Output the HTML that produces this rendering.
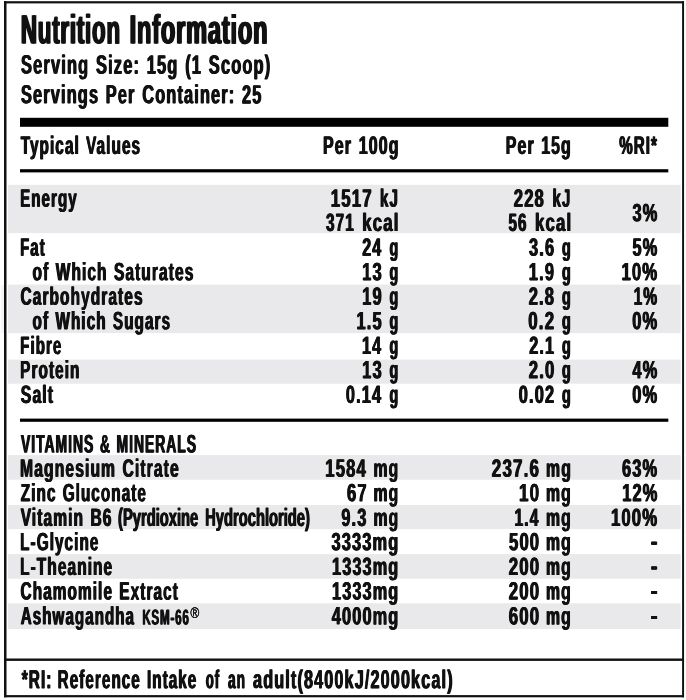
<!DOCTYPE html>
<html><head><meta charset="utf-8"><title>Nutrition Information</title>
<style>
html,body{margin:0;padding:0;background:#fff;}
#l{position:relative;width:686px;height:700px;overflow:hidden;background:#fff;font-family:"Liberation Sans",sans-serif;font-weight:700;color:#111}
#l svg{position:absolute;left:0;top:0;display:block}
#l span{position:absolute;left:0;top:0;display:block;line-height:1;white-space:pre;word-spacing:0.06em;letter-spacing:0.07em;transform-origin:0 0;text-rendering:geometricPrecision}
</style></head><body>
<div id="l">
<svg width="686" height="700" viewBox="0 0 686 700">
<rect x="1.5" y="285" width="2.6" height="48" fill="#f4f4f5"/>
<rect x="8" y="184.8" width="672.7" height="48.3" fill="#e9e9eb"/><rect x="8" y="284.6" width="672.7" height="48.5" fill="#e9e9eb"/><rect x="8" y="359.6" width="672.7" height="24.1" fill="#e9e9eb"/><rect x="8" y="455.1" width="672.7" height="24.6" fill="#e9e9eb"/><rect x="8" y="505.0" width="672.7" height="24.1" fill="#e9e9eb"/><rect x="8" y="554.1" width="672.7" height="24.6" fill="#e9e9eb"/><rect x="8" y="603.3" width="672.7" height="25.7" fill="#e9e9eb"/>
<rect x="4" y="1.2" width="2.5" height="696.1" fill="#111"/><rect x="682.1" y="1.2" width="1.95" height="696.1" fill="#111"/><rect x="4" y="1.2" width="680" height="2.2" fill="#111"/><rect x="4" y="695.1" width="680" height="2.2" fill="#111"/>
<rect x="4.1" y="658.5" width="679.9" height="2.4" fill="#111"/>
<rect x="20" y="117.8" width="648.3" height="9" fill="#000"/>
<rect x="20" y="169.2" width="648.3" height="3.2" fill="#000"/>
<rect x="20" y="418.6" width="648.3" height="3.2" fill="#000"/>
</svg>
<span style="letter-spacing:0.035em;font-size:41.13px;transform:matrix(0.5424,0.0005,0,1,20.91,9.55);text-shadow:1.47px 0 0 #111,-1.47px 0 0 #111">Nutrition</span>
<span style="letter-spacing:0.035em;font-size:41.13px;transform:matrix(0.5732,0.0005,0,1,129.63,9.54);text-shadow:1.40px 0 0 #111,-1.40px 0 0 #111">Information</span>
<span style="font-size:26.45px;transform:matrix(0.6212,0.0005,0,1,21.01,51.60);text-shadow:0.76px 0 0 #111,-0.76px 0 0 #111">Serving Size: 15g (1 Scoop)</span>
<span style="font-size:26.31px;transform:matrix(0.6211,0.0005,0,1,21.01,81.20);text-shadow:0.76px 0 0 #111,-0.76px 0 0 #111">Servings Per Container: 25</span>
<span style="font-size:25.44px;transform:matrix(0.6025,0.0005,0,1,20.67,133.95);text-shadow:0.78px 0 0 #111,-0.78px 0 0 #111">Typical Values</span>
<span style="font-size:25.44px;transform:matrix(0.6278,0.0005,0,1,323.07,133.97);text-shadow:0.75px 0 0 #111,-0.75px 0 0 #111">Per 100g</span>
<span style="font-size:25.44px;transform:matrix(0.6239,0.0005,0,1,505.78,133.97);text-shadow:0.75px 0 0 #111,-0.75px 0 0 #111">Per 15g</span>
<span style="font-size:25.44px;transform:matrix(0.5951,0.0005,0,1,619.23,133.98);text-shadow:0.79px 0 0 #111,-0.79px 0 0 #111">%RI*</span>
<span style="font-size:25.15px;transform:matrix(0.6007,0.0005,0,1,20.13,186.68);text-shadow:0.78px 0 0 #111,-0.78px 0 0 #111">Energy</span>
<span style="font-size:25.15px;transform:matrix(0.6695,0.0005,0,1,330.72,186.68);text-shadow:0.70px 0 0 #111,-0.70px 0 0 #111">1517</span>
<span style="font-size:25.15px;transform:matrix(0.6004,0.0005,0,1,380.03,186.69);text-shadow:0.78px 0 0 #111,-0.78px 0 0 #111">kJ</span>
<span style="font-size:25.15px;transform:matrix(0.6086,0.0005,0,1,326.03,210.99);text-shadow:0.77px 0 0 #111,-0.77px 0 0 #111">371</span>
<span style="font-size:25.15px;transform:matrix(0.6675,0.0005,0,1,362.22,210.99);text-shadow:0.70px 0 0 #111,-0.70px 0 0 #111">kcal</span>
<span style="font-size:25.15px;transform:matrix(0.6617,0.0005,0,1,513.75,186.69);text-shadow:0.71px 0 0 #111,-0.71px 0 0 #111">228</span>
<span style="font-size:25.15px;transform:matrix(0.6004,0.0005,0,1,552.43,186.69);text-shadow:0.78px 0 0 #111,-0.78px 0 0 #111">kJ</span>
<span style="font-size:25.15px;transform:matrix(0.6011,0.0005,0,1,508.53,210.99);text-shadow:0.78px 0 0 #111,-0.78px 0 0 #111">56</span>
<span style="font-size:25.15px;transform:matrix(0.6675,0.0005,0,1,534.92,210.99);text-shadow:0.70px 0 0 #111,-0.70px 0 0 #111">kcal</span>
<span style="font-size:25.15px;transform:matrix(0.6467,0.0005,0,1,632.52,201.29);text-shadow:0.73px 0 0 #111,-0.73px 0 0 #111">3%</span>
<span style="font-size:25.15px;transform:matrix(0.5957,0.0005,0,1,20.13,235.79);text-shadow:0.79px 0 0 #111,-0.79px 0 0 #111">Fat</span>
<span style="font-size:25.15px;transform:matrix(0.6376,0.0005,0,1,362.17,235.79);text-shadow:0.74px 0 0 #111,-0.74px 0 0 #111">24</span>
<span style="font-size:25.15px;transform:matrix(0.5676,0.0005,0,1,389.52,235.80);text-shadow:0.83px 0 0 #111,-0.83px 0 0 #111">g</span>
<span style="font-size:25.15px;transform:matrix(0.6502,0.0005,0,1,529.01,235.79);text-shadow:0.72px 0 0 #111,-0.72px 0 0 #111">3.6</span>
<span style="font-size:25.15px;transform:matrix(0.5676,0.0005,0,1,561.92,235.80);text-shadow:0.83px 0 0 #111,-0.83px 0 0 #111">g</span>
<span style="font-size:25.15px;transform:matrix(0.6467,0.0005,0,1,632.52,235.79);text-shadow:0.73px 0 0 #111,-0.73px 0 0 #111">5%</span>
<span style="font-size:25.15px;transform:matrix(0.6166,0.0005,0,1,32.59,260.23);text-shadow:0.76px 0 0 #111,-0.76px 0 0 #111">of Which Saturates</span>
<span style="font-size:25.15px;transform:matrix(0.6558,0.0005,0,1,362.14,260.29);text-shadow:0.72px 0 0 #111,-0.72px 0 0 #111">13</span>
<span style="font-size:25.15px;transform:matrix(0.5676,0.0005,0,1,389.52,260.30);text-shadow:0.83px 0 0 #111,-0.83px 0 0 #111">g</span>
<span style="font-size:25.15px;transform:matrix(0.6576,0.0005,0,1,528.74,260.29);text-shadow:0.71px 0 0 #111,-0.71px 0 0 #111">1.9</span>
<span style="font-size:25.15px;transform:matrix(0.5676,0.0005,0,1,561.92,260.30);text-shadow:0.83px 0 0 #111,-0.83px 0 0 #111">g</span>
<span style="font-size:25.15px;transform:matrix(0.6636,0.0005,0,1,621.43,260.29);text-shadow:0.71px 0 0 #111,-0.71px 0 0 #111">10%</span>
<span style="font-size:25.15px;transform:matrix(0.6141,0.0005,0,1,20.59,284.75);text-shadow:0.77px 0 0 #111,-0.77px 0 0 #111">Carbohydrates</span>
<span style="font-size:25.15px;transform:matrix(0.6558,0.0005,0,1,362.14,284.79);text-shadow:0.72px 0 0 #111,-0.72px 0 0 #111">19</span>
<span style="font-size:25.15px;transform:matrix(0.5676,0.0005,0,1,389.52,284.80);text-shadow:0.83px 0 0 #111,-0.83px 0 0 #111">g</span>
<span style="font-size:25.15px;transform:matrix(0.6571,0.0005,0,1,528.75,284.79);text-shadow:0.72px 0 0 #111,-0.72px 0 0 #111">2.8</span>
<span style="font-size:25.15px;transform:matrix(0.5676,0.0005,0,1,561.92,284.80);text-shadow:0.83px 0 0 #111,-0.83px 0 0 #111">g</span>
<span style="font-size:25.15px;transform:matrix(0.6180,0.0005,0,1,633.60,284.79);text-shadow:0.76px 0 0 #111,-0.76px 0 0 #111">1%</span>
<span style="font-size:25.15px;transform:matrix(0.6085,0.0005,0,1,32.59,309.14);text-shadow:0.77px 0 0 #111,-0.77px 0 0 #111">of Which Sugars</span>
<span style="font-size:25.15px;transform:matrix(0.6521,0.0005,0,1,356.55,309.19);text-shadow:0.72px 0 0 #111,-0.72px 0 0 #111">1.5</span>
<span style="font-size:25.15px;transform:matrix(0.5676,0.0005,0,1,389.52,309.20);text-shadow:0.83px 0 0 #111,-0.83px 0 0 #111">g</span>
<span style="font-size:25.15px;transform:matrix(0.6706,0.0005,0,1,528.24,309.19);text-shadow:0.70px 0 0 #111,-0.70px 0 0 #111">0.2</span>
<span style="font-size:25.15px;transform:matrix(0.5676,0.0005,0,1,561.92,309.20);text-shadow:0.83px 0 0 #111,-0.83px 0 0 #111">g</span>
<span style="font-size:25.15px;transform:matrix(0.6535,0.0005,0,1,632.26,309.19);text-shadow:0.72px 0 0 #111,-0.72px 0 0 #111">0%</span>
<span style="font-size:25.15px;transform:matrix(0.6009,0.0005,0,1,20.13,333.88);text-shadow:0.78px 0 0 #111,-0.78px 0 0 #111">Fibre</span>
<span style="font-size:25.15px;transform:matrix(0.6447,0.0005,0,1,361.96,333.89);text-shadow:0.73px 0 0 #111,-0.73px 0 0 #111">14</span>
<span style="font-size:25.15px;transform:matrix(0.5676,0.0005,0,1,389.52,333.90);text-shadow:0.83px 0 0 #111,-0.83px 0 0 #111">g</span>
<span style="font-size:25.15px;transform:matrix(0.6436,0.0005,0,1,529.26,333.89);text-shadow:0.73px 0 0 #111,-0.73px 0 0 #111">2.1</span>
<span style="font-size:25.15px;transform:matrix(0.5676,0.0005,0,1,561.92,333.90);text-shadow:0.83px 0 0 #111,-0.83px 0 0 #111">g</span>
<span style="font-size:25.15px;transform:matrix(0.6107,0.0005,0,1,20.11,358.28);text-shadow:0.77px 0 0 #111,-0.77px 0 0 #111">Protein</span>
<span style="font-size:25.15px;transform:matrix(0.6558,0.0005,0,1,362.14,358.29);text-shadow:0.72px 0 0 #111,-0.72px 0 0 #111">13</span>
<span style="font-size:25.15px;transform:matrix(0.5676,0.0005,0,1,389.52,358.30);text-shadow:0.83px 0 0 #111,-0.83px 0 0 #111">g</span>
<span style="font-size:25.15px;transform:matrix(0.6642,0.0005,0,1,528.75,358.29);text-shadow:0.71px 0 0 #111,-0.71px 0 0 #111">2.0</span>
<span style="font-size:25.15px;transform:matrix(0.5676,0.0005,0,1,561.92,358.30);text-shadow:0.83px 0 0 #111,-0.83px 0 0 #111">g</span>
<span style="font-size:25.15px;transform:matrix(0.6452,0.0005,0,1,632.57,358.29);text-shadow:0.73px 0 0 #111,-0.73px 0 0 #111">4%</span>
<span style="font-size:25.15px;transform:matrix(0.6261,0.0005,0,1,20.82,382.89);text-shadow:0.75px 0 0 #111,-0.75px 0 0 #111">Salt</span>
<span style="font-size:25.15px;transform:matrix(0.6503,0.0005,0,1,345.86,382.89);text-shadow:0.72px 0 0 #111,-0.72px 0 0 #111">0.14</span>
<span style="font-size:25.15px;transform:matrix(0.5676,0.0005,0,1,389.52,382.90);text-shadow:0.83px 0 0 #111,-0.83px 0 0 #111">g</span>
<span style="font-size:25.15px;transform:matrix(0.6505,0.0005,0,1,518.76,382.89);text-shadow:0.72px 0 0 #111,-0.72px 0 0 #111">0.02</span>
<span style="font-size:25.15px;transform:matrix(0.5676,0.0005,0,1,561.92,382.90);text-shadow:0.83px 0 0 #111,-0.83px 0 0 #111">g</span>
<span style="font-size:25.15px;transform:matrix(0.6535,0.0005,0,1,632.26,382.89);text-shadow:0.72px 0 0 #111,-0.72px 0 0 #111">0%</span>
<span style="font-size:25.44px;transform:matrix(0.5464,0.0005,0,1,21.07,432.42);text-shadow:0.86px 0 0 #111,-0.86px 0 0 #111">VITAMINS &amp; MINERALS</span>
<span style="font-size:25.15px;transform:matrix(0.6229,0.0005,0,1,20.09,456.74);text-shadow:0.75px 0 0 #111,-0.75px 0 0 #111">Magnesium Citrate</span>
<span style="font-size:25.15px;transform:matrix(0.6630,0.0005,0,1,325.23,456.78);text-shadow:0.71px 0 0 #111,-0.71px 0 0 #111">1584</span>
<span style="font-size:25.15px;transform:matrix(0.6269,0.0005,0,1,373.48,456.79);text-shadow:0.75px 0 0 #111,-0.75px 0 0 #111">mg</span>
<span style="font-size:25.15px;transform:matrix(0.6732,0.0005,0,1,491.84,456.78);text-shadow:0.70px 0 0 #111,-0.70px 0 0 #111">237.6</span>
<span style="font-size:25.15px;transform:matrix(0.6269,0.0005,0,1,546.08,456.79);text-shadow:0.75px 0 0 #111,-0.75px 0 0 #111">mg</span>
<span style="font-size:25.15px;transform:matrix(0.6518,0.0005,0,1,622.06,456.79);text-shadow:0.72px 0 0 #111,-0.72px 0 0 #111">63%</span>
<span style="font-size:25.15px;transform:matrix(0.6070,0.0005,0,1,20.83,481.15);text-shadow:0.77px 0 0 #111,-0.77px 0 0 #111">Zinc Gluconate</span>
<span style="font-size:25.15px;transform:matrix(0.6574,0.0005,0,1,347.05,481.19);text-shadow:0.71px 0 0 #111,-0.71px 0 0 #111">67</span>
<span style="font-size:25.15px;transform:matrix(0.6269,0.0005,0,1,373.48,481.19);text-shadow:0.75px 0 0 #111,-0.75px 0 0 #111">mg</span>
<span style="font-size:25.15px;transform:matrix(0.6764,0.0005,0,1,519.01,481.19);text-shadow:0.69px 0 0 #111,-0.69px 0 0 #111">10</span>
<span style="font-size:25.15px;transform:matrix(0.6269,0.0005,0,1,545.98,481.19);text-shadow:0.75px 0 0 #111,-0.75px 0 0 #111">mg</span>
<span style="font-size:25.15px;transform:matrix(0.6482,0.0005,0,1,622.25,481.19);text-shadow:0.73px 0 0 #111,-0.73px 0 0 #111">12%</span>
<span style="font-size:25.15px;transform:matrix(0.6179,0.0005,0,1,20.67,505.86);text-shadow:0.76px 0 0 #111,-0.76px 0 0 #111">Vitamin B6</span>
<span style="letter-spacing:0.0em;font-size:25.15px;transform:matrix(0.5857,0.0005,0,1,118.08,505.87);text-shadow:0.80px 0 0 #111,-0.80px 0 0 #111">(Pyrdioxine</span>
<span style="letter-spacing:0.0em;font-size:25.15px;transform:matrix(0.5860,0.0005,0,1,205.15,505.86);text-shadow:0.80px 0 0 #111,-0.80px 0 0 #111">Hydrochloride)</span>
<span style="font-size:25.15px;transform:matrix(0.6490,0.0005,0,1,341.36,505.89);text-shadow:0.72px 0 0 #111,-0.72px 0 0 #111">9.3</span>
<span style="font-size:25.15px;transform:matrix(0.6269,0.0005,0,1,373.48,505.89);text-shadow:0.75px 0 0 #111,-0.75px 0 0 #111">mg</span>
<span style="font-size:25.15px;transform:matrix(0.6194,0.0005,0,1,514.50,505.89);text-shadow:0.76px 0 0 #111,-0.76px 0 0 #111">1.4</span>
<span style="font-size:25.15px;transform:matrix(0.6269,0.0005,0,1,545.98,505.89);text-shadow:0.75px 0 0 #111,-0.75px 0 0 #111">mg</span>
<span style="font-size:25.15px;transform:matrix(0.6643,0.0005,0,1,610.93,505.88);text-shadow:0.71px 0 0 #111,-0.71px 0 0 #111">100%</span>
<span style="font-size:25.15px;transform:matrix(0.6084,0.0005,0,1,20.11,530.17);text-shadow:0.77px 0 0 #111,-0.77px 0 0 #111">L-Glycine</span>
<span style="font-size:25.15px;transform:matrix(0.6515,0.0005,0,1,331.51,530.17);text-shadow:0.72px 0 0 #111,-0.72px 0 0 #111">3333mg</span>
<span style="font-size:25.15px;transform:matrix(0.6617,0.0005,0,1,509.01,530.19);text-shadow:0.71px 0 0 #111,-0.71px 0 0 #111">500</span>
<span style="font-size:25.15px;transform:matrix(0.6269,0.0005,0,1,545.98,530.19);text-shadow:0.75px 0 0 #111,-0.75px 0 0 #111">mg</span>
<span style="font-size:25.15px;transform:matrix(0.6141,0.0005,0,1,20.10,554.96);text-shadow:0.77px 0 0 #111,-0.77px 0 0 #111">L-Theanine</span>
<span style="font-size:25.15px;transform:matrix(0.6461,0.0005,0,1,332.05,554.97);text-shadow:0.73px 0 0 #111,-0.73px 0 0 #111">1333mg</span>
<span style="font-size:25.15px;transform:matrix(0.6676,0.0005,0,1,508.75,554.99);text-shadow:0.70px 0 0 #111,-0.70px 0 0 #111">200</span>
<span style="font-size:25.15px;transform:matrix(0.6269,0.0005,0,1,545.98,554.99);text-shadow:0.75px 0 0 #111,-0.75px 0 0 #111">mg</span>
<span style="font-size:25.15px;transform:matrix(0.6109,0.0005,0,1,20.59,579.54);text-shadow:0.77px 0 0 #111,-0.77px 0 0 #111">Chamomile Extract</span>
<span style="font-size:25.15px;transform:matrix(0.6461,0.0005,0,1,332.05,579.57);text-shadow:0.73px 0 0 #111,-0.73px 0 0 #111">1333mg</span>
<span style="font-size:25.15px;transform:matrix(0.6676,0.0005,0,1,508.75,579.59);text-shadow:0.70px 0 0 #111,-0.70px 0 0 #111">200</span>
<span style="font-size:25.15px;transform:matrix(0.6269,0.0005,0,1,545.98,579.59);text-shadow:0.75px 0 0 #111,-0.75px 0 0 #111">mg</span>
<span style="font-size:25.15px;transform:matrix(0.6018,0.0005,0,1,20.83,604.35);text-shadow:0.78px 0 0 #111,-0.78px 0 0 #111">Ashwagandha</span>
<span style="font-size:21.37px;transform:matrix(0.5429,0.0005,0,1,142.28,607.58);text-shadow:0.74px 0 0 #111,-0.74px 0 0 #111">KSM-66</span>
<span style="font-size:25.15px;transform:matrix(0.6490,0.0005,0,1,331.77,604.37);text-shadow:0.72px 0 0 #111,-0.72px 0 0 #111">4000mg</span>
<span style="font-size:25.15px;transform:matrix(0.6676,0.0005,0,1,508.75,604.39);text-shadow:0.70px 0 0 #111,-0.70px 0 0 #111">600</span>
<span style="font-size:25.15px;transform:matrix(0.6269,0.0005,0,1,545.98,604.39);text-shadow:0.75px 0 0 #111,-0.75px 0 0 #111">mg</span>
<span style="font-size:26.02px;transform:matrix(0.5894,0.0005,0,1,21.77,666.19);text-shadow:0.80px 0 0 #111,-0.80px 0 0 #111">*RI:</span>
<span style="font-size:26.02px;transform:matrix(0.5854,0.0005,0,1,57.62,666.17);text-shadow:0.80px 0 0 #111,-0.80px 0 0 #111">Reference</span>
<span style="font-size:26.02px;transform:matrix(0.5846,0.0005,0,1,147.02,666.18);text-shadow:0.80px 0 0 #111,-0.80px 0 0 #111">Intake</span>
<span style="font-size:26.02px;transform:matrix(0.5053,0.0005,0,1,205.76,666.19);text-shadow:0.93px 0 0 #111,-0.93px 0 0 #111">of</span>
<span style="font-size:26.02px;transform:matrix(0.5262,0.0005,0,1,228.06,666.19);text-shadow:0.89px 0 0 #111,-0.89px 0 0 #111">an</span>
<span style="font-size:26.02px;transform:matrix(0.6231,0.0005,0,1,253.02,666.12);text-shadow:0.75px 0 0 #111,-0.75px 0 0 #111">adult(8400kJ/2000kcal)</span>
<span style="font-size:25.15px;transform:matrix(0.8023,0.0005,0,1,650.74,529.70);text-shadow:0.59px 0 0 #111,-0.59px 0 0 #111">-</span>
<span style="font-size:25.15px;transform:matrix(0.8023,0.0005,0,1,650.74,554.50);text-shadow:0.59px 0 0 #111,-0.59px 0 0 #111">-</span>
<span style="font-size:25.15px;transform:matrix(0.8023,0.0005,0,1,650.74,579.10);text-shadow:0.59px 0 0 #111,-0.59px 0 0 #111">-</span>
<span style="font-size:25.15px;transform:matrix(0.8023,0.0005,0,1,650.74,603.90);text-shadow:0.59px 0 0 #111,-0.59px 0 0 #111">-</span>
<span style="font-weight:400;font-size:14.97px;transform:matrix(0.8005,0.0005,0,1,190.40,606.80);text-shadow:0.25px 0 0 #111,-0.25px 0 0 #111">®</span>
</div>
</body></html>
